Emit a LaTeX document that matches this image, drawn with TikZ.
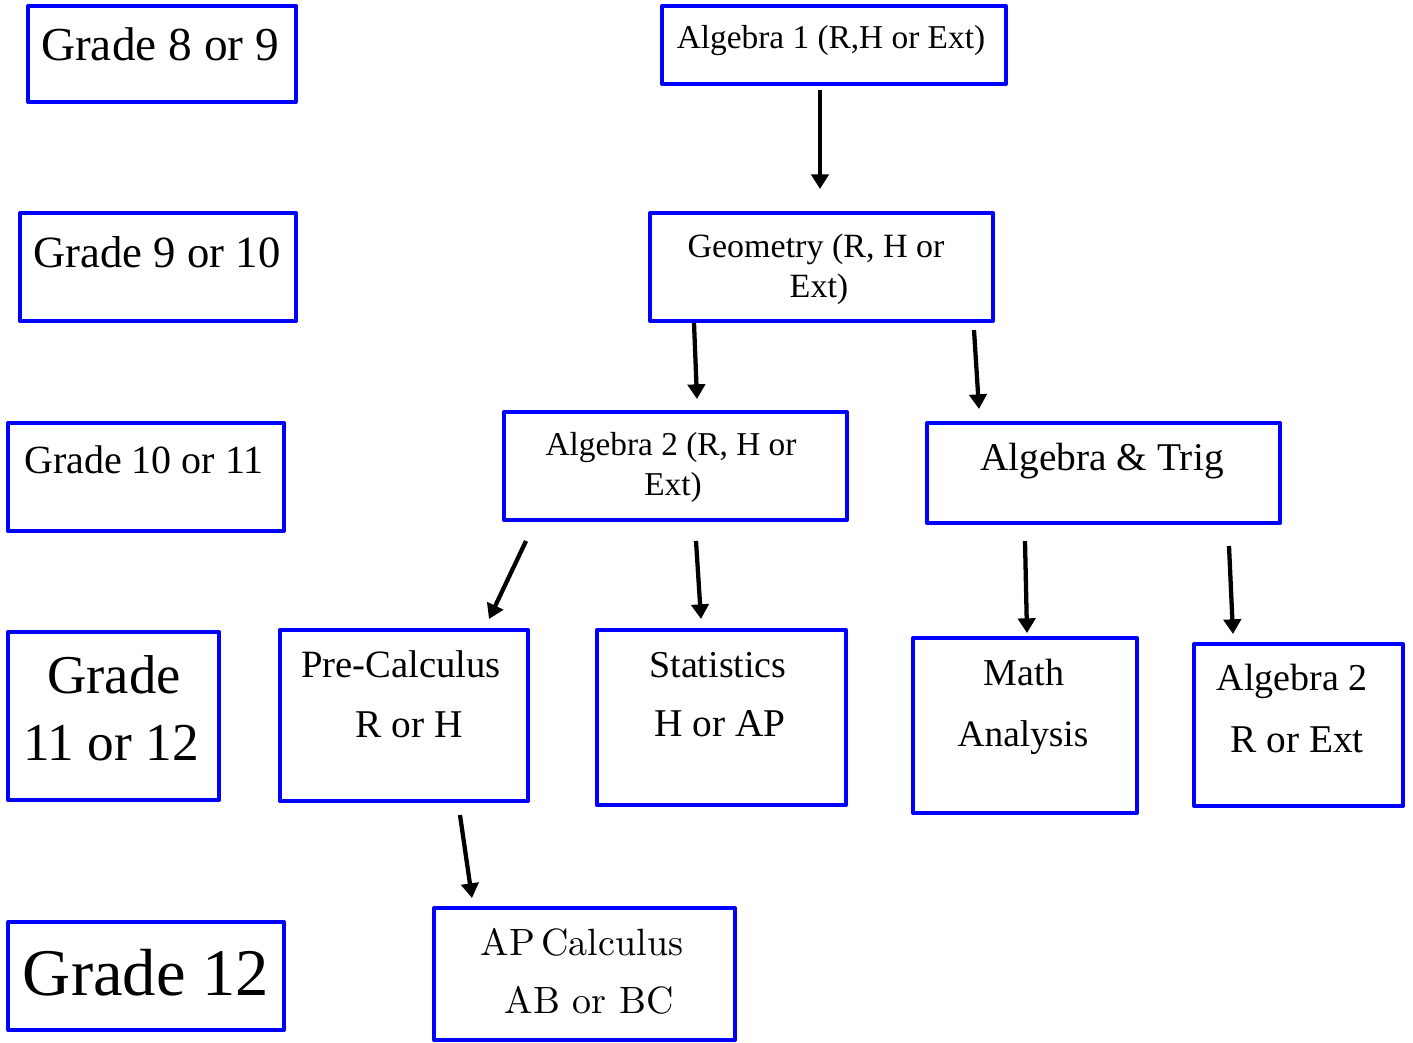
\documentclass[tikz,border=0pt]{standalone}
\usepackage{fontspec}
\setmainfont{Liberation Serif}
\newfontfamily\lmten{lmroman10-regular.otf}
\usetikzlibrary{arrows.meta,fit}
\definecolor{boxblue}{RGB}{0,0,255}
\newcommand\setfs[1]{\fontsize{#1}{#1}\selectfont}
\begin{document}
\begin{tikzpicture}[x=0.75pt,y=-0.75pt,
  box/.style={draw=boxblue, line width=3pt, inner sep=0pt, line join=round},
  conn/.style={line width=3.2pt, -{Triangle[width=13pt,length=11pt]}},
  txt/.style={inner sep=0pt, anchor=base}]
\useasboundingbox (0,0) rectangle (1413,1042);

% grade boxes
\node[box, fit={(28,6) (296,102)}] (g89) {};
\node[txt] (g89t) at (160,60) {\setfs{35.5}Grade 8 or 9};
\node[box, fit={(20,213) (296,321)}] (g910) {};
\node[txt] (g910t) at (157,267) {\setfs{33.5}Grade 9 or 10};
\node[box, fit={(8,423) (284,531)}] (g1011) {};
\node[txt] (g1011t) at (144,473) {\setfs{30}Grade 10 or 11};
\node[box, fit={(8,632) (219,800)}] (g1112) {};
\node[txt] (g1112a) at (114,693) {\setfs{41}Grade};
\node[txt] (g1112b) at (111,760) {\setfs{40}11 or 12};
\node[box, fit={(8,922) (284,1030)}] (g12) {};
\node[txt] (g12t) at (146,995) {\setfs{50}Grade 12};

% course boxes
\node[box, fit={(662,6) (1006,84)}] (alg1) {};
\node[txt] (alg1t) at (831,48) {\setfs{25}Algebra 1 (R,H or Ext)};
\node[box, fit={(650,213) (993,321)}] (geo) {};
\node[txt] (geoa) at (816,257) {\setfs{25.5}Geometry (R, H or};
\node[txt] (geob) at (819,297) {\setfs{25.5}Ext)};
\node[box, fit={(504,412) (847,520)}] (alg2) {};
\node[txt] (alg2a) at (671,455) {\setfs{25}Algebra 2 (R, H or};
\node[txt] (alg2b) at (673,495) {\setfs{25}Ext)};
\node[box, fit={(927,423) (1280,523)}] (algtrig) {};
\node[txt] (algtrigt) at (1102,470) {\setfs{29.5}Algebra \& Trig};
\node[box, fit={(280,630) (528,801)}] (precalc) {};
\node[txt] (precalca) at (401,677) {\setfs{29}Pre-Calculus};
\node[txt] (precalcb) at (409,737) {\setfs{29.5}R or H};
\node[box, fit={(597,630) (846,805)}] (stats) {};
\node[txt] (statsa) at (718,677) {\setfs{28.5}Statistics};
\node[txt] (statsb) at (720,736) {\setfs{29.5}H or AP};
\node[box, fit={(913,638) (1137,813)}] (mathan) {};
\node[txt] (mathana) at (1024,685) {\setfs{28.5}Math};
\node[txt] (mathanb) at (1023,746) {\setfs{28}Analysis};
\node[box, fit={(1194,644) (1403,806)}] (alg2r) {};
\node[txt] (alg2ra) at (1292,690) {\setfs{28.5}Algebra 2};
\node[txt] (alg2rb) at (1297,752) {\setfs{29.5}R or Ext};
\node[box, fit={(434,908) (735,1040)}] (apcalc) {};
\node[txt] (apcalca) at (582,955) {\lmten\setfs{28.5}AP\,Calculus};
\node[txt] (apcalcb) at (589,1013) {\lmten\setfs{28.5}AB or BC};

% connector end points
\coordinate (c1s) at (820,90);   \coordinate (c1e) at (820,189);
\coordinate (c2s) at (694,323);  \coordinate (c2e) at (697,399);
\coordinate (c3s) at (974,330);  \coordinate (c3e) at (979,409);
\coordinate (c4s) at (526,541);  \coordinate (c4e) at (489,619);
\coordinate (c5s) at (696,541);  \coordinate (c5e) at (701,619);
\coordinate (c6s) at (1025,541); \coordinate (c6e) at (1027,633);
\coordinate (c7s) at (1229,546); \coordinate (c7e) at (1233,634);
\coordinate (c8s) at (460,815);  \coordinate (c8e) at (472,898);

\draw[conn] (c1s) -- (c1e);
\draw[conn] (c2s) -- (c2e);
\draw[conn] (c3s) -- (c3e);
\draw[conn] (c4s) -- (c4e);
\draw[conn] (c5s) -- (c5e);
\draw[conn] (c6s) -- (c6e);
\draw[conn] (c7s) -- (c7e);
\draw[conn] (c8s) -- (c8e);
\end{tikzpicture}
\end{document}
